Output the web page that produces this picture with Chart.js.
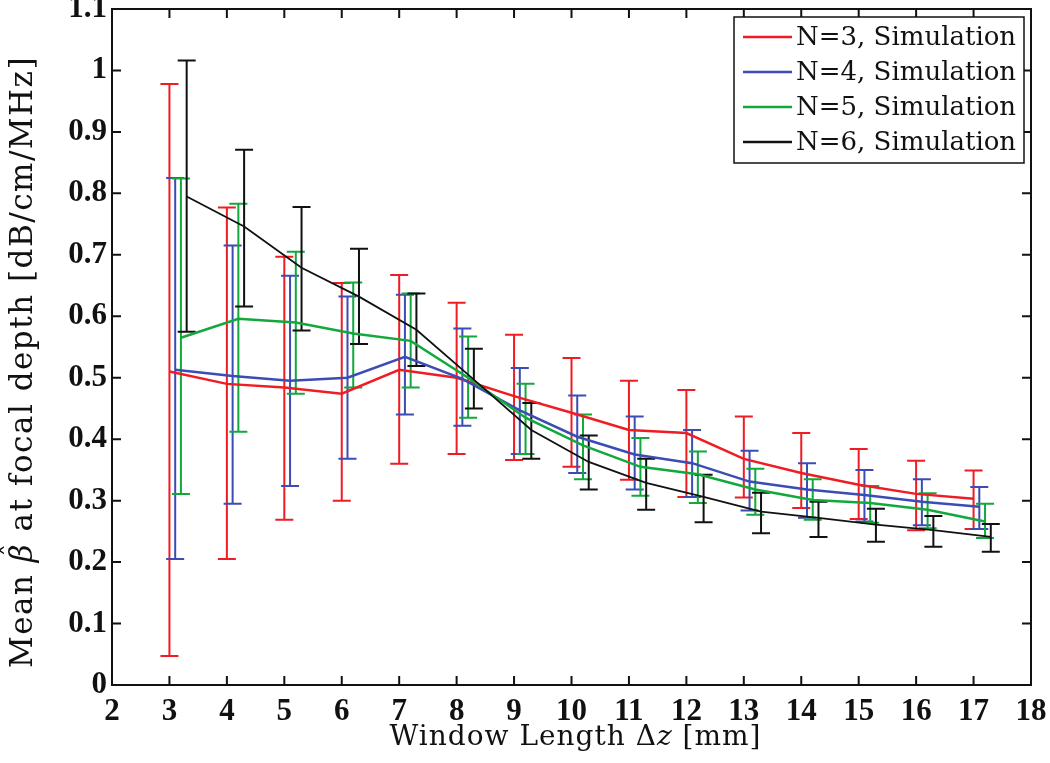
<!DOCTYPE html>
<html>
<head>
<meta charset="utf-8">
<script src="https://cdn.jsdelivr.net/npm/chart.js@4.4.1/dist/chart.umd.min.js"></script>
<style>
  html, body { margin: 0; padding: 0; background: #fff; }
</style>
</head>
<body>
<canvas id="chart" width="1050" height="763"></canvas>
<script>
// window lengths (mm); each series is drawn slightly shifted to the right
const windowLengths = [3, 4, 5, 6, 7, 8, 9, 10, 11, 12, 13, 14, 15, 16, 17];
const xShift = [0, 0.1, 0.2, 0.3];
const seriesLabels = ["N=3, Simulation", "N=4, Simulation", "N=5, Simulation", "N=6, Simulation"];
const xTicks = [2, 3, 4, 5, 6, 7, 8, 9, 10, 11, 12, 13, 14, 15, 16, 17, 18];
const yTicks = [0, 0.1, 0.2, 0.3, 0.4, 0.5, 0.6, 0.7, 0.8, 0.9, 1, 1.1];

const meanN3  = [0.510, 0.490, 0.484, 0.474, 0.513, 0.500, 0.470, 0.443, 0.415, 0.410, 0.368, 0.345, 0.326, 0.311, 0.303];
const upperN3 = [0.978, 0.777, 0.697, 0.654, 0.667, 0.622, 0.570, 0.532, 0.495, 0.480, 0.437, 0.410, 0.384, 0.365, 0.349];
const lowerN3 = [0.047, 0.205, 0.269, 0.300, 0.360, 0.376, 0.366, 0.355, 0.334, 0.306, 0.305, 0.288, 0.270, 0.252, 0.254];

const meanN4  = [0.513, 0.503, 0.495, 0.500, 0.534, 0.498, 0.447, 0.404, 0.375, 0.361, 0.331, 0.318, 0.309, 0.298, 0.290];
const upperN4 = [0.825, 0.715, 0.666, 0.632, 0.635, 0.580, 0.516, 0.471, 0.437, 0.415, 0.381, 0.361, 0.350, 0.335, 0.322];
const lowerN4 = [0.205, 0.295, 0.324, 0.368, 0.440, 0.422, 0.376, 0.345, 0.318, 0.306, 0.284, 0.272, 0.266, 0.260, 0.254];

const meanN5  = [0.565, 0.596, 0.590, 0.572, 0.560, 0.500, 0.435, 0.390, 0.355, 0.343, 0.318, 0.301, 0.296, 0.285, 0.266];
const upperN5 = [0.824, 0.783, 0.705, 0.655, 0.637, 0.567, 0.490, 0.440, 0.402, 0.380, 0.352, 0.335, 0.324, 0.312, 0.295];
const lowerN5 = [0.311, 0.412, 0.474, 0.484, 0.484, 0.435, 0.376, 0.335, 0.308, 0.296, 0.277, 0.269, 0.264, 0.255, 0.239];

const meanN6  = [0.795, 0.746, 0.679, 0.632, 0.578, 0.497, 0.415, 0.363, 0.329, 0.306, 0.282, 0.272, 0.261, 0.252, 0.241];
const upperN6 = [1.016, 0.871, 0.778, 0.710, 0.637, 0.547, 0.459, 0.406, 0.368, 0.342, 0.313, 0.298, 0.287, 0.275, 0.262];
const lowerN6 = [0.575, 0.616, 0.577, 0.555, 0.519, 0.450, 0.368, 0.318, 0.285, 0.265, 0.247, 0.241, 0.233, 0.225, 0.217];

const means = [meanN3, meanN4, meanN5, meanN6];
const uppers = [upperN3, upperN4, upperN5, upperN6];
const lowers = [lowerN3, lowerN4, lowerN5, lowerN6];
const colors = ["#f01c24", "#3b4cb4", "#12a83c", "#111111"];
const lineWidths = [2.5, 2.5, 2.5, 1.8];

const datasets = means.map((m, i) => ({
  label: seriesLabels[i],
  data: m.map((v, j) => ({ x: windowLengths[j] + xShift[i], y: v })),
  borderColor: colors[i],
  borderWidth: lineWidths[i],
  pointRadius: 0,
  tension: 0,
  fill: false,
  order: 4 - i
}));

// draws text made of pieces with different fonts, centred on cx
function drawPieces(ctx, pieces, cx, baseY, spacing) {
  ctx.letterSpacing = spacing + "px";
  let total = 0;
  pieces.forEach(p => { ctx.font = p.font; p.w = ctx.measureText(p.text).width; total += p.w; });
  let x = cx - total / 2;
  pieces.forEach(p => {
    ctx.font = p.font;
    ctx.fillText(p.text, x, baseY);
    if (p.hat) {
      // circumflex over the symbol
      ctx.font = p.hatFont;
      const hw = ctx.measureText("\u02C6").width;
      ctx.fillText("\u02C6", x + (p.w - hw) / 2 + 3, baseY - p.hat);
    }
    x += p.w;
  });
  ctx.letterSpacing = "0px";
}

const matlabFrame = {
  id: "matlabFrame",
  beforeDatasetsDraw(chart) {
    const ctx = chart.ctx;
    const xs = chart.scales.x, ys = chart.scales.y;
    ctx.save();
    ctx.lineWidth = 2;
    means.forEach((m, i) => {
      ctx.strokeStyle = colors[i];
      m.forEach((v, j) => {
        const px = xs.getPixelForValue(windowLengths[j] + xShift[i]);
        const pt = ys.getPixelForValue(uppers[i][j]);
        const pb = ys.getPixelForValue(lowers[i][j]);
        ctx.beginPath();
        ctx.moveTo(px, pt); ctx.lineTo(px, pb);
        ctx.moveTo(px - 9, pt); ctx.lineTo(px + 9, pt);
        ctx.moveTo(px - 9, pb); ctx.lineTo(px + 9, pb);
        ctx.stroke();
      });
    });
    ctx.restore();
  },
  afterDraw(chart) {
    const ctx = chart.ctx;
    const a = chart.chartArea;
    const xs = chart.scales.x, ys = chart.scales.y;
    ctx.save();
    ctx.strokeStyle = "#111";
    ctx.lineWidth = 2;
    ctx.strokeRect(a.left, a.top, a.right - a.left, a.bottom - a.top);

    // inward ticks on all four sides
    ctx.beginPath();
    xTicks.forEach(v => {
      const px = xs.getPixelForValue(v);
      ctx.moveTo(px, a.bottom); ctx.lineTo(px, a.bottom - 9);
      ctx.moveTo(px, a.top); ctx.lineTo(px, a.top + 9);
    });
    yTicks.forEach(v => {
      const py = ys.getPixelForValue(v);
      ctx.moveTo(a.left, py); ctx.lineTo(a.left + 9, py);
      ctx.moveTo(a.right, py); ctx.lineTo(a.right - 9, py);
    });
    ctx.stroke();

    // legend box, top right inside the axes
    const lx = 734, ly = 17, lw = 290, lh = 146;
    ctx.fillStyle = "#fff";
    ctx.fillRect(lx, ly, lw, lh);
    ctx.lineWidth = 1.5;
    ctx.strokeRect(lx, ly, lw, lh);
    ctx.font = "26px 'DejaVu Serif'";
    ctx.textBaseline = "middle";
    chart.data.datasets.forEach((ds, i) => {
      const y = ly + 20 + i * 35;
      ctx.strokeStyle = ds.borderColor;
      ctx.lineWidth = 2.5;
      ctx.beginPath();
      ctx.moveTo(lx + 9, y); ctx.lineTo(lx + 58, y);
      ctx.stroke();
      ctx.fillStyle = "#111";
      ctx.fillText(ds.label, lx + 62, y + 1);
    });

    // axis titles
    ctx.fillStyle = "#111";
    ctx.textBaseline = "alphabetic";
    ctx.textAlign = "left";
    drawPieces(ctx, [
      { text: "Window Length \u0394", font: "28px 'DejaVu Serif'" },
      { text: "z", font: "italic 28px 'DejaVu Serif'" },
      { text: " [mm]", font: "28px 'DejaVu Serif'" }
    ], (a.left + a.right) / 2 + 4, 745, 1);

    ctx.translate(32, 362);
    ctx.rotate(-Math.PI / 2);
    drawPieces(ctx, [
      { text: "Mean ", font: "31px 'DejaVu Serif'" },
      { text: "\u03B2", font: "italic 31px 'DejaVu Serif'", hat: 12, hatFont: "26px 'DejaVu Serif'" },
      { text: " at focal depth [dB/cm/MHz]", font: "31px 'DejaVu Serif'" }
    ], 0, 0, 1.5);
    ctx.restore();
  }
};

new Chart(document.getElementById("chart"), {
  type: "line",
  data: { datasets },
  options: {
    responsive: false,
    animation: false,
    devicePixelRatio: 1,
    layout: { padding: { top: 9, right: 19, left: 0, bottom: 0 } },
    plugins: { legend: { display: false }, tooltip: { enabled: false } },
    scales: {
      x: {
        type: "linear",
        min: 2,
        max: 18,
        afterFit: s => { s.height = 78; s.paddingLeft = 0; s.paddingRight = 0; },
        afterBuildTicks: s => { s.ticks = xTicks.map(v => ({ value: v })); },
        grid: { display: false, drawTicks: false },
        border: { display: false },
        ticks: {
          padding: 8,
          maxRotation: 0,
          autoSkip: false,
          color: "#111",
          font: { family: "'Liberation Serif'", size: 31, weight: "bold" }
        }
      },
      y: {
        min: 0,
        max: 1.1,
        afterFit: s => { s.width = 112; s.paddingTop = 0; s.paddingBottom = 0; },
        afterBuildTicks: s => { s.ticks = yTicks.map(v => ({ value: v })); },
        grid: { display: false, drawTicks: false },
        border: { display: false },
        ticks: {
          padding: 5,
          color: "#111",
          font: { family: "'Liberation Serif'", size: 31, weight: "bold" },
          callback: v => String(+v.toFixed(1))
        }
      }
    }
  },
  plugins: [matlabFrame]
});
</script>
</body>
</html>
